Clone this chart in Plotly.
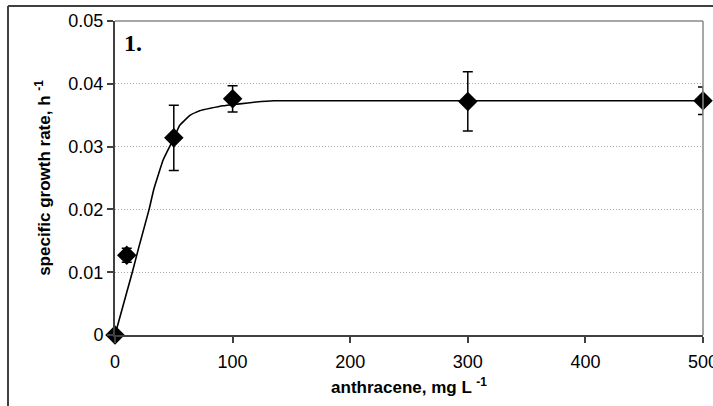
import plotly.graph_objects as go

# measured data
conc = [0, 10, 50, 100, 300, 500]
rate = [0.0, 0.0127, 0.0314, 0.0376, 0.0372, 0.0373]
rate_err = [0.0, 0.0011, 0.0052, 0.0021, 0.0047, 0.0022]

# fitted curve
fit_x = [0, 10, 15, 20, 29, 33, 41, 50, 55, 64, 72, 81, 92, 106, 120, 135, 200, 300, 400, 500]
fit_y = [0.0, 0.0068, 0.0102, 0.0138, 0.0200, 0.0232, 0.0279, 0.0313, 0.0334, 0.0350,
         0.0357, 0.0361, 0.0365, 0.0368, 0.0371, 0.0373, 0.0373, 0.0373, 0.0373, 0.0373]

x_ticks = [0, 100, 200, 300, 400, 500]
y_ticks = [0, 0.01, 0.02, 0.03, 0.04, 0.05]
y_tick_text = ["0", "0.01", "0.02", "0.03", "0.04", "0.05"]

fig = go.Figure()
fig.add_trace(go.Scatter(
    x=fit_x, y=fit_y, mode="lines", line=dict(color="black", width=1.6, shape="spline", smoothing=0.3),
    hoverinfo="skip", showlegend=False, cliponaxis=False))
fig.add_trace(go.Scatter(
    x=conc, y=rate, mode="markers",
    marker=dict(symbol="diamond", size=15, color="black"),
    error_y=dict(type="data", array=rate_err, visible=True, color="black", thickness=1.5, width=5),
    showlegend=False, cliponaxis=False))

L, R, T, B = 115, 10, 21, 71
W, H = 713, 406
pw, ph = W - L - R, H - T - B

tick_font = dict(family="Liberation Sans, Arial, sans-serif", size=18, color="black")
title_font = dict(family="Liberation Sans, Arial, sans-serif", size=17, color="black", weight="bold")

fig.update_layout(
    width=W, height=H,
    margin=dict(l=L, r=R, t=T, b=B, autoexpand=False),
    paper_bgcolor="white", plot_bgcolor="white",
    font=dict(family="Liberation Sans, Arial, sans-serif", size=17, color="black"),
    xaxis=dict(range=[0, 500], tickvals=x_ticks, ticks="outside", ticklen=6, tickwidth=1.5,
               tickcolor="#404040", showline=True, linecolor="#404040", linewidth=2, automargin=False,
               showgrid=False, zeroline=False, tickfont=tick_font, ticklabeloverflow="allow",
               ticklabelstandoff=3,
               title=dict(text="anthracene, mg L <sup>-1</sup>", font=title_font, standoff=11)),
    yaxis=dict(range=[0, 0.05], tickvals=y_ticks, ticktext=y_tick_text, ticks="outside", ticklen=6,
               tickwidth=1.5, tickcolor="#404040", showline=True, linecolor="#404040", linewidth=2,
               automargin=False,
               showgrid=True, gridcolor="#a8a8a8", griddash="1px,2px", gridwidth=1, zeroline=False,
               tickfont=tick_font, ticklabeloverflow="allow",
               title=dict(text="specific growth rate, h <sup>-1</sup>", font=title_font, standoff=13)),
    shapes=[
        # top/right plot frame
        dict(type="line", xref="paper", yref="paper", x0=0, x1=1, y0=1, y1=1, line=dict(color="#8a8a8a", width=1.5)),
        dict(type="line", xref="paper", yref="paper", x0=1, x1=1, y0=0, y1=1, line=dict(color="#8a8a8a", width=1.5)),
        # outer chart border (left and top)
        dict(type="line", xref="paper", yref="paper", x0=(8 - L) / pw, x1=1.1, y0=(H - B - 6) / ph, y1=(H - B - 6) / ph,
             line=dict(color="#404040", width=2)),
        dict(type="line", xref="paper", yref="paper", x0=(8 - L) / pw, x1=(8 - L) / pw, y0=-0.3, y1=(H - B - 6) / ph,
             line=dict(color="#404040", width=2)),
    ],
    annotations=[
        dict(text="<b>1.</b>", xref="paper", yref="paper", x=(122 - L) / pw, y=(H - B - 43) / ph,
             xanchor="left", yanchor="middle", showarrow=False,
             font=dict(family="Liberation Serif, Times New Roman, serif", size=24, color="black")),
    ],
)

fig.write_html("out.html")
